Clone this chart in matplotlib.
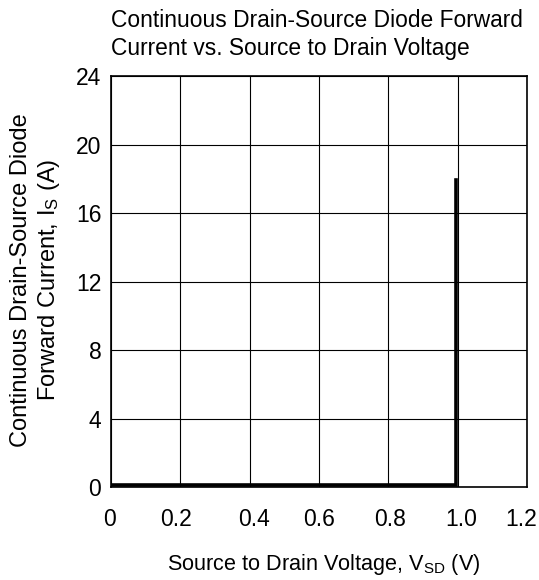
import matplotlib
matplotlib.use("Agg")
import matplotlib.pyplot as plt
from matplotlib.transforms import ScaledTranslation

plt.rcParams['font.family'] = ['Liberation Sans', 'DejaVu Sans']
plt.rcParams['mathtext.fontset'] = 'custom'
plt.rcParams['mathtext.rm'] = 'Liberation Sans'

# Curve data: source-drain voltage (V) vs diode forward current (A)
vsd = [0.0, 0.995, 0.995]
i_s = [0.1, 0.1, 17.9]

x_ticks = [0, 0.2, 0.4, 0.6, 0.8, 1.0, 1.2]
x_labels = ['0', '0.2', '0.4', '0.6', '0.8', '1.0', '1.2']
y_ticks = [0, 4, 8, 12, 16, 20, 24]

fig = plt.figure(figsize=(5.39, 5.80), dpi=100)
ax = fig.add_axes([0.206, 0.160, 0.772, 0.709])

ax.plot(vsd, i_s, color='black', lw=2.6, solid_joinstyle='miter')

ax.set_xlim(0, 1.2)
ax.set_ylim(0, 24)
ax.set_xticks(x_ticks)
ax.set_xticklabels(x_labels)
ax.set_yticks(y_ticks)
ax.tick_params(length=0, labelsize=16.5)
ax.tick_params(axis='x', pad=15)
ax.tick_params(axis='y', pad=7)
ax.grid(True, color='black', lw=0.8)
for s in ax.spines.values():
    s.set_linewidth(1.2)

# x tick labels in the original sit slightly off their gridlines
shifts = [-1.5, -4, 4, 0, 2, 3, -6]
for lab, dx in zip(ax.get_xticklabels(), shifts):
    lab.set_transform(lab.get_transform() + ScaledTranslation(dx / 100, 0, fig.dpi_scale_trans))

fig.text(0.206, 0.941, 'Continuous Drain-Source Diode Forward\nCurrent vs. Source to Drain Voltage',
         ha='left', va='center', fontsize=16.4, linespacing=1.3)
fig.text(0.6, 0.026, r'Source to Drain Voltage, $\mathregular{V_{SD}}$ (V)',
         ha='center', va='center', fontsize=15.6)
fig.text(0.067, 0.517, 'Continuous Drain-Source Diode\nForward Current, $\\mathregular{I_S}$ (A)',
         ha='center', va='center', rotation=90, fontsize=17, linespacing=1.2)

fig.savefig('out.png', dpi=100)
